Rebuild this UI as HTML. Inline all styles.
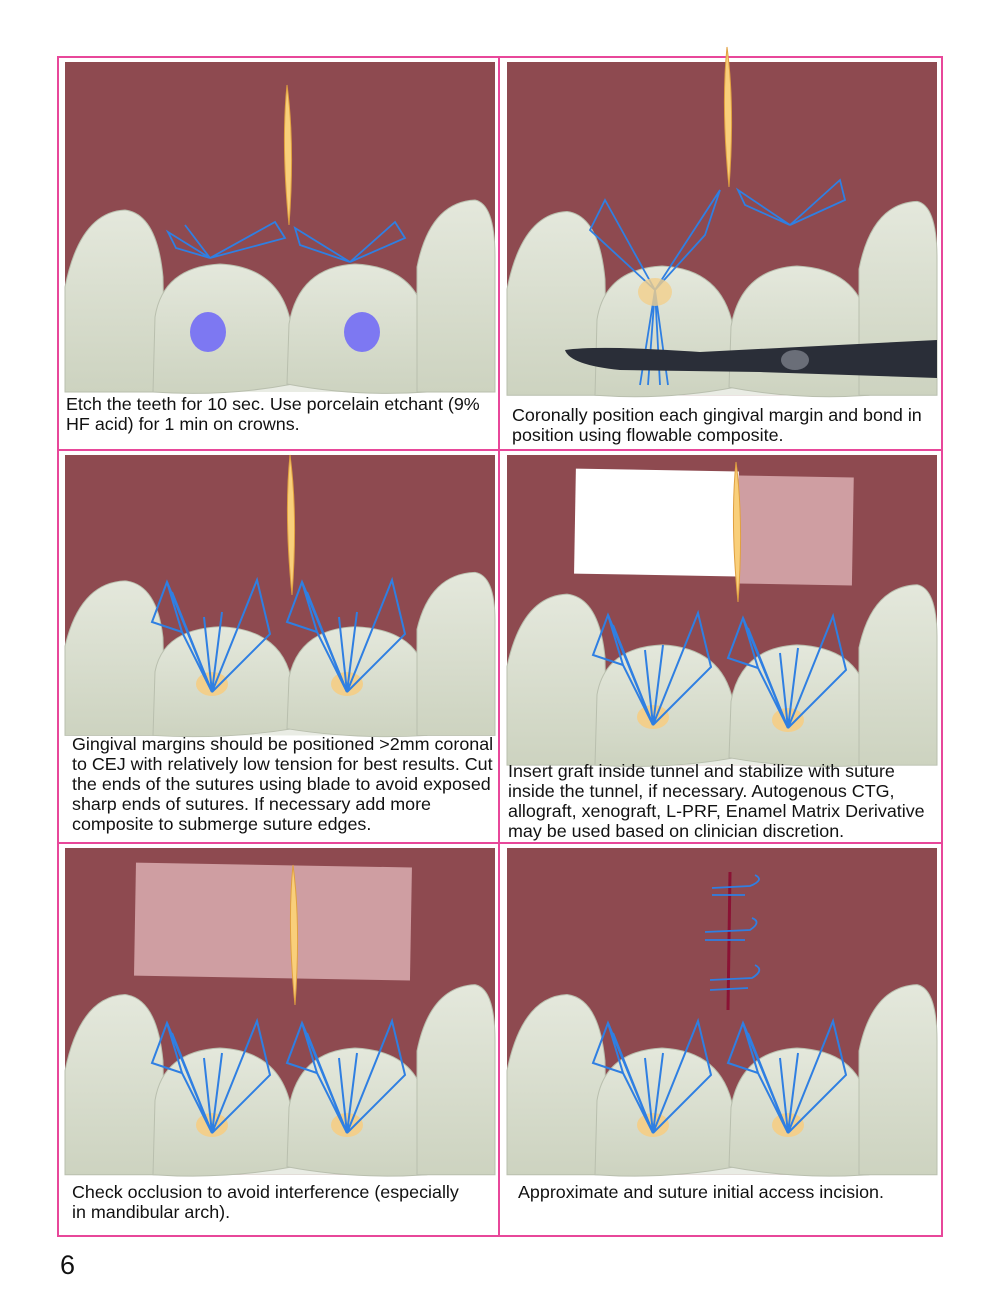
<!DOCTYPE html>
<html><head><meta charset="utf-8"><style>
html,body{margin:0;padding:0;background:#fff;}
svg{display:block;}
text{font-family:"Liberation Sans",sans-serif;font-size:17.9px;fill:#111;}
</style></head><body>
<svg width="1000" height="1294" viewBox="0 0 1000 1294" xmlns="http://www.w3.org/2000/svg">
<defs>
  <linearGradient id="tg" x1="0" y1="0" x2="0" y2="1">
    <stop offset="0" stop-color="#e4e8dc"/><stop offset="1" stop-color="#cdd3c0"/>
  </linearGradient>
  <g id="teeth">
    <rect x="0" y="0" width="430" height="330" fill="#8e4a50"/>
    <rect x="0" y="300" width="430" height="30" fill="#e9ece4"/>
    <path d="M0,330 L0,225 Q15,150 60,148 Q92,152 98,215 L100,330Z" fill="url(#tg)" stroke="#b9bfae"/>
    <path d="M88,330 L90,255 Q98,205 155,202 Q215,205 226,262 L228,322 Q160,335 88,330Z" fill="url(#tg)" stroke="#b9bfae"/>
    <path d="M222,322 L224,262 Q234,205 290,202 Q350,205 360,255 L362,330 Q290,335 222,322Z" fill="url(#tg)" stroke="#b9bfae"/>
    <path d="M352,330 L352,205 Q365,140 410,138 Q430,142 430,195 L430,330Z" fill="url(#tg)" stroke="#b9bfae"/>
  </g>
  <g id="blade"><path d="M6,0 Q14,60 8,140 Q0,60 6,0Z" fill="#f9cf7a" stroke="#e0a040" stroke-width="1"/></g>
  <g id="sut" fill="none" stroke="#2f7fe2" stroke-width="2">
    <path d="M0,0 L-45,-110 L-30,-60 Z M0,0 L-40,-100 M0,0 L-8,-75 M0,0 L45,-112 L58,-58 Z M0,0 L10,-80"/>
    <path d="M0,0 L-45,-110 L-60,-70 L-30,-60"/>
  </g>
  <g id="knot">
    <ellipse cx="0" cy="-8" rx="16" ry="12" fill="#f2cf8c"/>
    <use href="#sut"/>
  </g>
</defs>

<g fill="none" stroke="#e8479a" stroke-width="2">
  <rect x="58" y="57" width="884" height="1179"/>
  <line x1="499" y1="57" x2="499" y2="1236"/>
  <line x1="58" y1="450" x2="942" y2="450"/>
  <line x1="58" y1="843" x2="942" y2="843"/>
</g>

<!-- Panel 1 -->
<g transform="translate(65,62)"><use href="#teeth"/></g>
<ellipse cx="208" cy="332" rx="18" ry="20" fill="#7d78f2"/>
<ellipse cx="362" cy="332" rx="18" ry="20" fill="#7d78f2"/>
<g fill="none" stroke="#2f7fe2" stroke-width="1.8">
  <path d="M210,258 L168,232 L176,248 Z M210,258 L285,238 L275,222 Z M210,258 L185,225"/>
  <path d="M350,262 L295,228 L300,245 Z M350,262 L405,238 L395,222 Z"/>
</g>
<g transform="translate(281,85)"><use href="#blade"/></g>

<!-- Panel 2 -->
<g transform="translate(507,62) scale(1,1.01)"><use href="#teeth"/></g>
<g fill="none" stroke="#2f7fe2" stroke-width="1.8">
  <path d="M655,290 L605,200 L590,230 Z M655,290 L720,190 L705,235 Z M655,290 L640,385 M655,290 L648,385 M655,290 L660,385 M655,290 L668,385"/>
  <path d="M790,225 L738,190 L745,205 Z M790,225 L840,180 L845,200 Z"/>
</g>
<ellipse cx="655" cy="292" rx="17" ry="14" fill="#f2cf8c" opacity="0.8"/>
<path d="M565,350 Q600,345 700,352 L937,340 L937,378 L760,372 L620,370 Q570,365 565,350Z" fill="#2a2e38"/>
<ellipse cx="795" cy="360" rx="14" ry="10" fill="#6a6e78"/>
<g transform="translate(721,47)"><use href="#blade"/></g>

<!-- Panel 3 -->
<g transform="translate(65,455) scale(1,0.85)"><use href="#teeth"/></g>
<g transform="translate(212,692)"><use href="#knot"/></g>
<g transform="translate(347,692)"><use href="#knot"/></g>
<g transform="translate(284,455)"><use href="#blade"/></g>

<!-- Panel 4 -->
<g transform="translate(507,455) scale(1,0.94)"><use href="#teeth"/></g>
<rect x="575" y="470" width="163" height="105" fill="#fff" transform="rotate(1 655 520)"/>
<rect x="738" y="474" width="115" height="108" fill="#cf9ea2" transform="rotate(1 655 520)"/>
<g transform="translate(653,725)"><use href="#knot"/></g>
<g transform="translate(788,728)"><use href="#knot"/></g>
<g transform="translate(730,462)"><use href="#blade"/></g>

<!-- Panel 5 -->
<g transform="translate(65,848) scale(1,0.99)"><use href="#teeth"/></g>
<rect x="135" y="865" width="276" height="113" fill="#cf9ea2" transform="rotate(1 270 920)"/>
<g transform="translate(212,1133)"><use href="#knot"/></g>
<g transform="translate(347,1133)"><use href="#knot"/></g>
<g transform="translate(287,865)"><use href="#blade"/></g>

<!-- Panel 6 -->
<g transform="translate(507,848) scale(1,0.99)"><use href="#teeth"/></g>
<line x1="730" y1="872" x2="728" y2="1010" stroke="#8a1234" stroke-width="3"/>
<g fill="none" stroke="#2f7fe2" stroke-width="1.8">
  <path d="M712,888 L750,886 Q765,880 755,875 M712,895 L745,895"/>
  <path d="M705,932 L750,930 Q762,922 752,918 M705,940 L745,940"/>
  <path d="M710,980 L752,978 Q765,970 755,965 M710,990 L748,988"/>
</g>
<g transform="translate(653,1133)"><use href="#knot"/></g>
<g transform="translate(788,1133)"><use href="#knot"/></g>

<!-- Text -->
<text x="66" y="410">Etch the teeth for 10 sec. Use porcelain etchant (9%</text>
<text x="66" y="430">HF acid) for 1 min on crowns.</text>
<text x="512" y="421">Coronally position each gingival margin and bond in</text>
<text x="512" y="441">position using flowable composite.</text>
<text x="72" y="750">Gingival margins should be positioned &gt;2mm coronal</text>
<text x="72" y="770">to CEJ with relatively low tension for best results. Cut</text>
<text x="72" y="790">the ends of the sutures using blade to avoid exposed</text>
<text x="72" y="810">sharp ends of sutures. If necessary add more</text>
<text x="72" y="830">composite to submerge suture edges.</text>
<text x="508" y="777">Insert graft inside tunnel and stabilize with suture</text>
<text x="508" y="797">inside the tunnel, if necessary. Autogenous CTG,</text>
<text x="508" y="817">allograft, xenograft, L-PRF, Enamel Matrix Derivative</text>
<text x="508" y="837">may be used based on clinician discretion.</text>
<text x="72" y="1198">Check occlusion to avoid interference (especially</text>
<text x="72" y="1218">in mandibular arch).</text>
<text x="518" y="1198">Approximate and suture initial access incision.</text>
<text x="60" y="1274" style="font-size:27px">6</text>
</svg>
</body></html>
